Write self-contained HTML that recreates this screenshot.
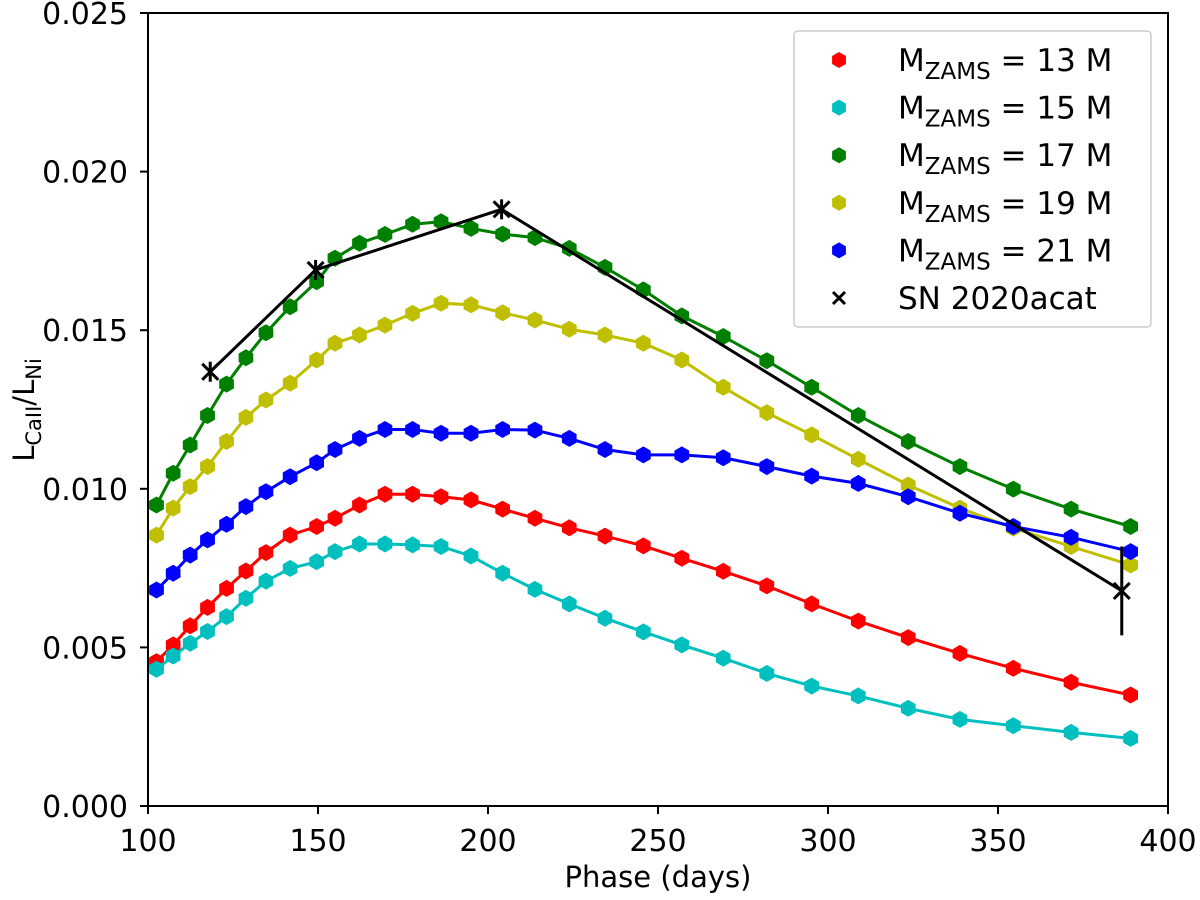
<!DOCTYPE html>
<html><head><meta charset="utf-8"><style>
html,body{margin:0;padding:0;background:#fff;}
svg text{font-family:"DejaVu Sans","Liberation Sans",sans-serif;fill:#000;}
</style></head><body>
<svg id="chart" width="1200" height="895" viewBox="0 0 1200 895" xmlns="http://www.w3.org/2000/svg">
<g id="plot"></g>
<g id="axes"></g>
<g id="legend"></g>
</svg>
<script>
const phase = [102.5,107.4,112.4,117.5,123.1,128.8,134.7,141.8,149.6,155,162.2,169.7,177.8,186.2,195,204.3,213.8,223.9,234.4,245.7,257,269.2,282,295.2,308.9,323.6,338.8,354.5,371.5,389];
const m13 = [0.00455,0.00508,0.00568,0.00626,0.00686,0.00741,0.00799,0.00854,0.00881,0.00907,0.00949,0.00983,0.00983,0.00975,0.00965,0.00936,0.00907,0.00877,0.00851,0.00820,0.00781,0.00740,0.00694,0.00637,0.00583,0.00531,0.00481,0.00434,0.00390,0.00350];
const m15 = [0.00431,0.00473,0.00513,0.00550,0.00597,0.00655,0.00709,0.00749,0.00770,0.00802,0.00826,0.00826,0.00823,0.00818,0.00788,0.00734,0.00683,0.00637,0.00592,0.00549,0.00508,0.00466,0.00418,0.00378,0.00347,0.00308,0.00273,0.00253,0.00232,0.00213];
const m17 = [0.00949,0.01049,0.01138,0.01231,0.01330,0.01413,0.01492,0.01574,0.01653,0.01727,0.01774,0.01802,0.01834,0.01842,0.01821,0.01803,0.01792,0.01758,0.01698,0.01627,0.01545,0.01480,0.01404,0.01320,0.01231,0.01149,0.01070,0.00999,0.00936,0.00881];
const m19 = [0.00854,0.00939,0.01007,0.01070,0.01149,0.01225,0.01280,0.01333,0.01406,0.01459,0.01485,0.01516,0.01553,0.01585,0.01580,0.01555,0.01532,0.01503,0.01485,0.01459,0.01406,0.01320,0.01240,0.01170,0.01093,0.01012,0.00939,0.00876,0.00818,0.00760];
const m21 = [0.00681,0.00734,0.00791,0.00839,0.00888,0.00944,0.00991,0.01038,0.01082,0.01124,0.01159,0.01187,0.01187,0.01175,0.01175,0.01187,0.01185,0.01159,0.01124,0.01107,0.01107,0.01098,0.01070,0.01040,0.01017,0.00975,0.00923,0.00881,0.00847,0.00802];
const snPhase = [118.3,149.3,204,386.4];
const snValue = [0.01369,0.01690,0.01881,0.00678];
const snErr = [0.0001,0.0001,0.0001,0.0014];
const xTicks = [100,150,200,250,300,350,400];
const yTicks = [0,0.005,0.010,0.015,0.020,0.025];
const yTickLabels = ["0.000","0.005","0.010","0.015","0.020","0.025"];
const seriesLabels = ["13","15","17","19","21"];

const NS="http://www.w3.org/2000/svg";
const X0=148,X1=1168,Y0=806,Y1=13;
function sx(v){return X0+(v-100)/300*(X1-X0);}
function sy(v){return Y0-(v-0)/0.025*(Y0-Y1);}
function mk(tag,attrs,parent){const e=document.createElementNS(NS,tag);for(const k in attrs)e.setAttribute(k,attrs[k]);parent.appendChild(e);return e;}
function hex(cx,cy,r){let p=[];for(let i=0;i<6;i++){const a=Math.PI/2+i*Math.PI/3;p.push((cx+r*Math.cos(a)).toFixed(1)+","+(cy-r*Math.sin(a)).toFixed(1));}return p.join(" ");}
const plot=document.getElementById('plot'),axes=document.getElementById('axes'),legend=document.getElementById('legend');
const series=[[m13,'#ff0000'],[m15,'#00bfbf'],[m17,'#008000'],[m19,'#bfbf00'],[m21,'#0000ff']];
series.forEach((s,si)=>{
  const g=mk('g',{},plot);
  
  
  const pts=phase.map((p,i)=>sx(p).toFixed(1)+","+sy(s[0][i]).toFixed(1)).join(" ");
  const ln=mk('polyline',{points:pts,fill:'none',stroke:s[1],'stroke-width':3},g);
  
  
  phase.forEach((p,i)=>{
    const h=mk('polygon',{points:hex(sx(p),sy(s[0][i]),8.5),fill:s[1]},g);
    
    
  });
});
const sg=mk('g',{},plot);


mk('polyline',{points:snPhase.map((p,i)=>sx(p).toFixed(1)+","+sy(snValue[i]).toFixed(1)).join(" "),fill:'none',stroke:'#000','stroke-width':3},sg);
snPhase.forEach((p,i)=>{
  const cx=sx(p),cy=sy(snValue[i]);
  const eb=mk('line',{x1:cx,x2:cx,y1:Math.min(cy-10,sy(snValue[i]+snErr[i])),y2:Math.max(cy+10,sy(snValue[i]-snErr[i])),stroke:'#000','stroke-width':3},sg);
  
  
  const m=mk('path',{d:`M${cx-8},${cy-8}L${cx+8},${cy+8}M${cx-8},${cy+8}L${cx+8},${cy-8}`,stroke:'#000','stroke-width':3},sg);
  
  
});
mk('rect',{x:X0,y:Y1,width:X1-X0,height:Y0-Y1,fill:'none',stroke:'#000','stroke-width':2},axes);
xTicks.forEach(t=>{
  mk('line',{x1:sx(t),x2:sx(t),y1:Y0,y2:Y0+8,stroke:'#000','stroke-width':2},axes);
  const tx=mk('text',{x:sx(t),y:Y0+45,'text-anchor':'middle','font-size':30},axes);
  tx.textContent=t;
  
  
});
yTicks.forEach((t,i)=>{
  mk('line',{x1:X0-8,x2:X0,y1:sy(t),y2:sy(t),stroke:'#000','stroke-width':2},axes);
  const tx=mk('text',{x:X0-20,y:sy(t)+11,'text-anchor':'end','font-size':30},axes);
  tx.textContent=yTickLabels[i];
  
  
});
const xl=mk('text',{x:(X0+X1)/2,y:887,'text-anchor':'middle','font-size':29},axes);
xl.textContent='Phase (days)';


const yl=mk('text',{transform:'translate(34,410) rotate(-90)','text-anchor':'middle','font-size':29},axes);
yl.innerHTML='L<tspan font-size="21" dy="7">CaII</tspan><tspan dy="-7">/L</tspan><tspan font-size="21" dy="7">Ni</tspan>';


const lb=mk('rect',{x:794,y:31,width:357,height:296,rx:4,fill:'#fff',stroke:'#ccc','stroke-width':1.5,'fill-opacity':0.8},legend);


series.forEach((s,i)=>{
  const y=60+i*47.6;
  const g=mk('g',{},legend);
  
  
  mk('polygon',{points:hex(839,y,8),fill:s[1]},g);
  const t=mk('text',{x:898,y:y+11,'font-size':31},g);
  t.innerHTML='M<tspan font-size="23" dy="8">ZAMS</tspan><tspan dy="-8"> = '+seriesLabels[i]+' M</tspan>';
});
const ly=60+5*47.6;
const lg=mk('g',{},legend);


mk('path',{d:`M833,${ly-6}L845,${ly+6}M833,${ly+6}L845,${ly-6}`,stroke:'#000','stroke-width':3},lg);
const lt=mk('text',{x:898,y:ly+11,'font-size':31},lg);
lt.textContent='SN 2020acat';
</script>
</body></html>
